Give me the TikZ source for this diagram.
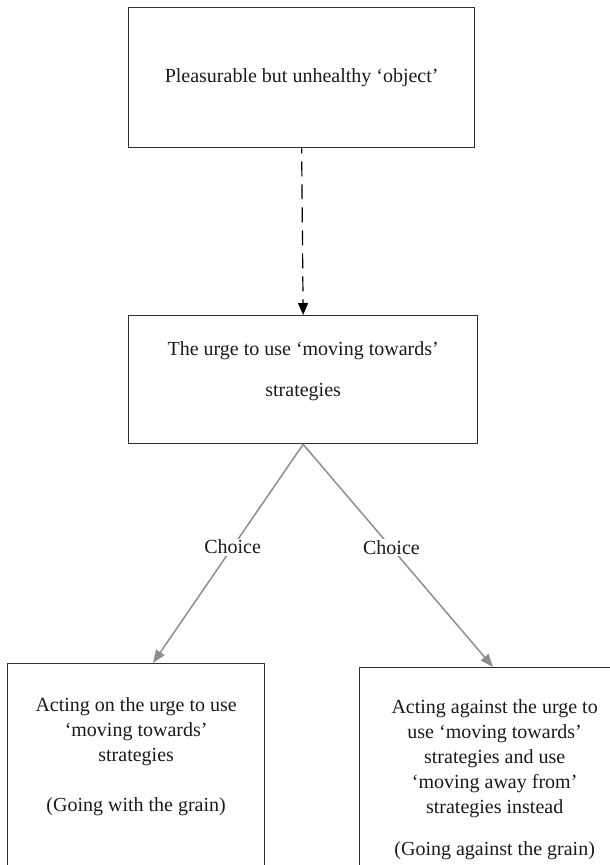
\documentclass[tikz,border=0pt]{standalone}
\usepackage{fontspec}
\setmainfont{Liberation Serif}
\usetikzlibrary{arrows.meta,calc}

\definecolor{ink}{HTML}{1A1A1A}
\definecolor{frame}{HTML}{303030}
\definecolor{link}{HTML}{8E8E8E}

\tikzset{
  box/.style={draw=frame, line width=1.3pt, fill=none, inner sep=0pt, anchor=north west},
  label/.style={text=ink, inner sep=0pt, align=center,
    font=\fontsize{20}{25}\selectfont},
  widelabel/.style={label, font=\fontsize{20}{41}\selectfont},
  choicetag/.style={text=ink, fill=white, inner sep=1.5pt,
    font=\fontsize{20}{24}\selectfont},
  dashlink/.style={draw=black, line width=1.2pt, dash pattern=on 15pt off 8pt,
    dash phase=10pt, -{Triangle[length=12pt,width=10pt]}},
  choicelink/.style={draw=link, line width=1.5pt,
    -{Triangle[length=13pt,width=10pt]}}
}

\begin{document}
\begin{tikzpicture}[x=1pt,y=-1pt]
  \useasboundingbox (0,0) rectangle (610,865);

  % boxes
  \node[box, minimum width=346pt, minimum height=140pt] (obj) at (128,7) {};
  \node[box, minimum width=349pt, minimum height=128pt] (urge) at (128,315) {};
  \node[box, minimum width=257pt, minimum height=240pt] (with) at (7,663) {};
  \node[box, minimum width=270pt, minimum height=240pt] (against) at (359,667) {};

  % box texts
  \node[label] (objtext) at (obj.center) {Pleasurable but unhealthy ‘object’};
  \node[widelabel, anchor=north] (urgetext) at ($(urge.north)+(0,26)$)
    {The urge to use ‘moving towards’\\strategies};
  \node[label, anchor=north] (withtext) at ($(with.north)+(0,34)$)
    {Acting on the urge to use\\‘moving towards’\\strategies\\[25pt](Going with the grain)};
  \node[label, anchor=north] (againsttext) at ($(against.north)+(0,32)$)
    {Acting against the urge to\\use ‘moving towards’\\strategies and use\\‘moving away from’\\strategies instead\\[17pt](Going against the grain)};

  % connectors
  \coordinate (withtip) at ($(with.north west)+(146,0)$);
  \coordinate (againsttip) at ($(against.north west)+(134,0)$);
  \draw[dashlink] (obj.south) -- (urge.north);
  \draw[choicelink] (urge.south) -- node[choicetag, pos=0.47] (c1) {Choice} (withtip);
  \draw[choicelink] (urge.south) -- node[choicetag, pos=0.465] (c2) {Choice} (againsttip);
\end{tikzpicture}
\end{document}
